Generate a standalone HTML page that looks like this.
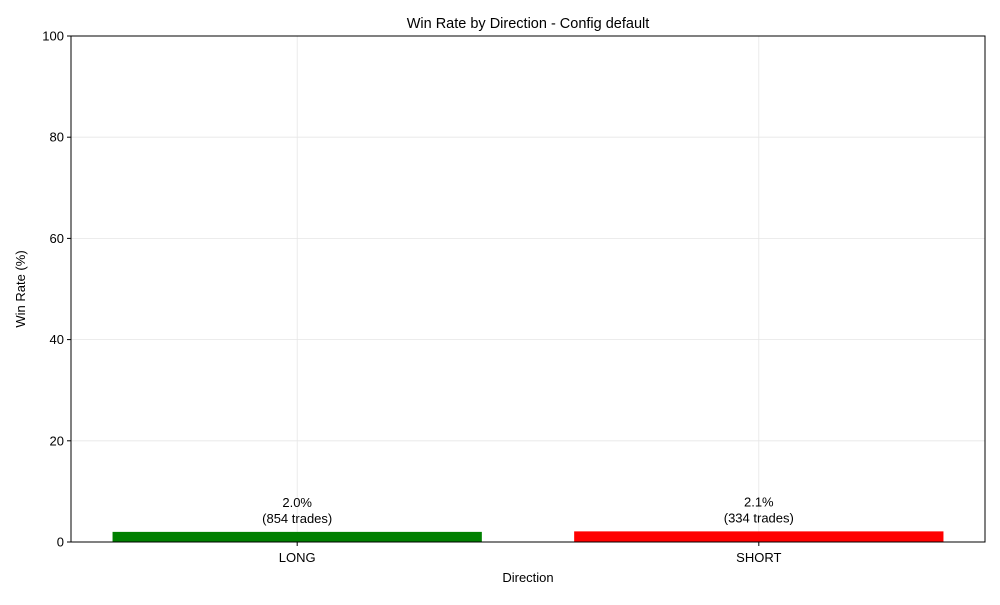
<!DOCTYPE html>
<html><head><meta charset="utf-8"><style>
body{margin:0;background:#fff;}
svg text{font-family:"Liberation Sans","DejaVu Sans",sans-serif;}
</style></head><body>
<svg id="chart" width="1000" height="600" xmlns="http://www.w3.org/2000/svg">
<rect width="1000" height="600" fill="#fff"/>
<g id="grid"></g>
<g id="bars"></g>
<g id="labels"></g>
<rect x="71" y="36" width="914" height="506" fill="none" stroke="#000" stroke-width="1"/>
<g id="ticks"></g>
<text x="528" y="28" font-size="14.5" text-anchor="middle">Win Rate by Direction - Config default</text>
<text x="528" y="582" font-size="13" text-anchor="middle">Direction</text>
<text x="25" y="289" font-size="13" text-anchor="middle" transform="rotate(-90 25 289)">Win Rate (%)</text>
</svg>
<script>
const categories = ["LONG", "SHORT"];
const winRates = [2.0, 2.1];
const tradeCounts = [854, 334];
const barColors = ["green", "red"];
const yTicks = [0, 20, 40, 60, 80, 100];

const L=71,R=985,T=36,B=542;
const xMin=-0.49,xMax=1.49,yMax=100;
const xs=v=>L+(v-xMin)/(xMax-xMin)*(R-L);
const ys=v=>B-v/yMax*(B-T);
const NS="http://www.w3.org/2000/svg";
function mk(tag,attrs,parent){const e=document.createElementNS(NS,tag);for(const k in attrs)e.setAttribute(k,attrs[k]);document.getElementById(parent).appendChild(e);return e;}

yTicks.forEach(t=>{
  const y=ys(t);
  const g=mk("line",{x1:L,x2:R,y1:y,y2:y,stroke:"#e6e6e6","stroke-width":0.8},"grid");
  
  
  const tk=mk("line",{x1:L-4,x2:L,y1:y,y2:y,stroke:"#000"},"ticks");
  
  
  const tx=mk("text",{x:L-7,y:y+4.5,"font-size":13,"text-anchor":"end"},"ticks");
  tx.textContent=t;
  
  
});
categories.forEach((c,i)=>{
  const x=xs(i);
  const g=mk("line",{x1:x,x2:x,y1:T,y2:B,stroke:"#e6e6e6","stroke-width":0.8},"grid");
  
  
  const x0=xs(i-0.4),x1=xs(i+0.4);
  const b=mk("rect",{x:x0,y:ys(winRates[i]),width:x1-x0,height:B-ys(winRates[i]),fill:barColors[i]},"bars");
  
  
  const tk=mk("line",{x1:x,x2:x,y1:B,y2:B+4,stroke:"#000"},"ticks");
  
  
  const tx=mk("text",{x:x,y:B+20,"font-size":13,"text-anchor":"middle"},"ticks");
  tx.textContent=c;
  
  
  const top=ys(winRates[i]);
  const l1=mk("text",{x:x,y:top-25,"font-size":13,"text-anchor":"middle"},"labels");
  l1.textContent=winRates[i].toFixed(1)+"%";
  
  
  const l2=mk("text",{x:x,y:top-9,"font-size":13,"text-anchor":"middle"},"labels");
  l2.textContent="("+tradeCounts[i]+" trades)";
  
  
});
</script>
</body></html>
